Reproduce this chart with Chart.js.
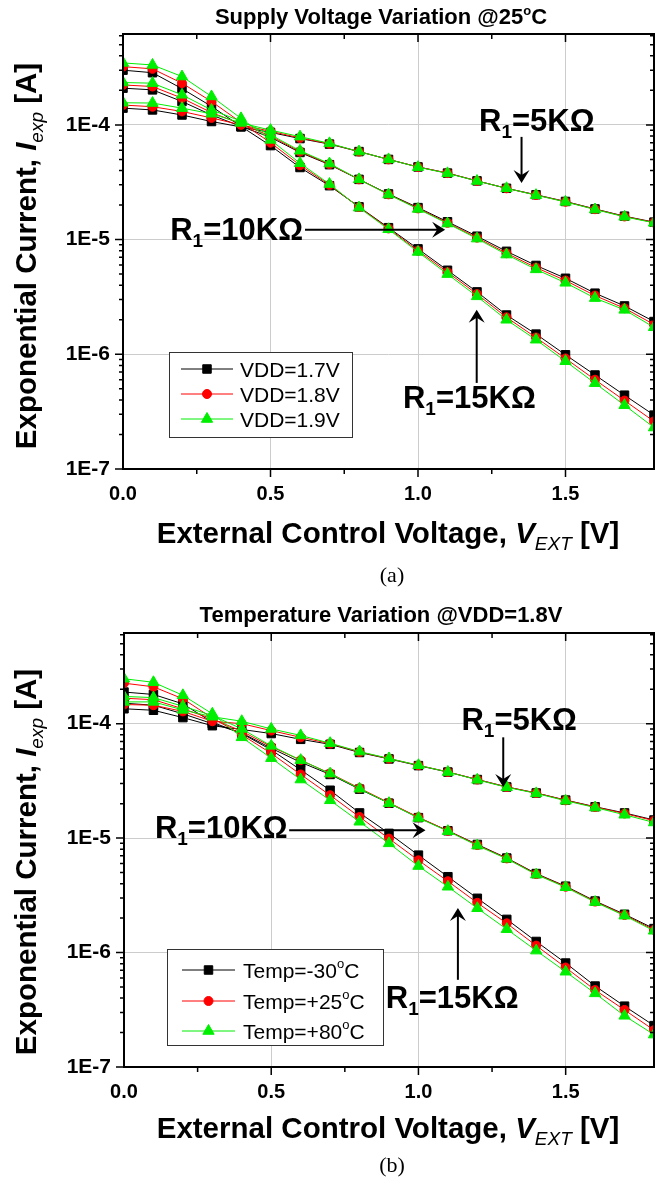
<!DOCTYPE html>
<html>
<head>
<meta charset="utf-8">
<script src="https://cdn.jsdelivr.net/npm/chart.js@4.4.1/dist/chart.umd.min.js"></script>
<style>
  body { margin: 0; background: #fff; }
  .box { position: absolute; left: 0; }
</style>
</head>
<body>
<div class="box" style="top:0"><canvas id="chartA" width="655" height="590"></canvas></div>
<div class="box" style="top:590px"><canvas id="chartB" width="655" height="591"></canvas></div>
<script>
// x values (external control voltage, V)
const volts = [0, 0.1, 0.2, 0.3, 0.4, 0.5, 0.6, 0.7, 0.8, 0.9, 1.0, 1.1, 1.2, 1.3, 1.4, 1.5, 1.6, 1.7, 1.8];

// tick labels
const xTickVals = [0, 0.5, 1.0, 1.5];
const xTickLabels = ['0.0', '0.5', '1.0', '1.5'];
const yTickVals = [1e-7, 1e-6, 1e-5, 1e-4];
const yTickLabels = ['1E-7', '1E-6', '1E-5', '1E-4'];

// (a) supply voltage variation @25C
const supplyLabels = ['VDD=1.7V', 'VDD=1.8V', 'VDD=1.9V'];
const supply15k_17 = [3.0e-4, 2.85e-4, 2.07e-4, 1.45e-4, 9.7e-5, 6.6e-5, 4.25e-5, 2.95e-5, 1.93e-5, 1.27e-5, 8.3e-6, 5.4e-6, 3.5e-6, 2.2e-6, 1.5e-6, 9.9e-7, 6.6e-7, 4.4e-7, 2.95e-7];
const supply15k_18 = [3.22e-4, 3.08e-4, 2.31e-4, 1.6e-4, 1.05e-4, 7.0e-5, 4.45e-5, 3.0e-5, 1.92e-5, 1.25e-5, 8.0e-6, 5.2e-6, 3.35e-6, 2.1e-6, 1.4e-6, 9.2e-7, 6.0e-7, 3.95e-7, 2.6e-7];
const supply15k_19 = [3.47e-4, 3.33e-4, 2.64e-4, 1.77e-4, 1.14e-4, 7.4e-5, 4.63e-5, 3.05e-5, 1.9e-5, 1.23e-5, 7.8e-6, 5.0e-6, 3.2e-6, 2.0e-6, 1.34e-6, 8.7e-7, 5.6e-7, 3.6e-7, 2.3e-7];
const supply10k_17 = [2.09e-4, 2.02e-4, 1.6e-4, 1.22e-4, 9.7e-5, 7.8e-5, 5.75e-5, 4.5e-5, 3.35e-5, 2.5e-5, 1.9e-5, 1.43e-5, 1.07e-5, 7.9e-6, 5.95e-6, 4.6e-6, 3.41e-6, 2.64e-6, 1.93e-6];
const supply10k_18 = [2.23e-4, 2.16e-4, 1.71e-4, 1.28e-4, 1.02e-4, 8.0e-5, 5.85e-5, 4.55e-5, 3.35e-5, 2.48e-5, 1.87e-5, 1.4e-5, 1.04e-5, 7.6e-6, 5.7e-6, 4.4e-6, 3.25e-6, 2.52e-6, 1.82e-6];
const supply10k_19 = [2.34e-4, 2.31e-4, 1.83e-4, 1.35e-4, 1.08e-4, 8.2e-5, 5.95e-5, 4.6e-5, 3.35e-5, 2.47e-5, 1.85e-5, 1.38e-5, 1.02e-5, 7.4e-6, 5.5e-6, 4.2e-6, 3.09e-6, 2.44e-6, 1.72e-6];
const supply5k_17 = [1.4e-4, 1.35e-4, 1.22e-4, 1.07e-4, 9.6e-5, 8.6e-5, 7.6e-5, 6.8e-5, 5.85e-5, 5.0e-5, 4.3e-5, 3.8e-5, 3.25e-5, 2.8e-5, 2.46e-5, 2.15e-5, 1.85e-5, 1.6e-5, 1.42e-5];
const supply5k_18 = [1.49e-4, 1.44e-4, 1.31e-4, 1.15e-4, 1.0e-4, 8.8e-5, 7.7e-5, 6.85e-5, 5.85e-5, 5.0e-5, 4.3e-5, 3.8e-5, 3.25e-5, 2.8e-5, 2.45e-5, 2.14e-5, 1.84e-5, 1.59e-5, 1.41e-5];
const supply5k_19 = [1.56e-4, 1.55e-4, 1.4e-4, 1.25e-4, 1.04e-4, 9.0e-5, 7.9e-5, 6.9e-5, 5.85e-5, 5.0e-5, 4.28e-5, 3.78e-5, 3.24e-5, 2.8e-5, 2.44e-5, 2.13e-5, 1.83e-5, 1.58e-5, 1.4e-5];

// (b) temperature variation @VDD=1.8V
const tempLabels = ['-30', '+25', '+80'];
const temp15k_m30 = [1.89e-4, 1.8e-4, 1.49e-4, 1.03e-4, 8.2e-5, 5.9e-5, 3.95e-5, 2.62e-5, 1.66e-5, 1.1e-5, 7.1e-6, 4.6e-6, 2.98e-6, 1.95e-6, 1.25e-6, 8.1e-7, 5.1e-7, 3.4e-7, 2.3e-7];
const temp15k_25 = [2.26e-4, 2.1e-4, 1.65e-4, 1.12e-4, 8.0e-5, 5.5e-5, 3.6e-5, 2.37e-5, 1.53e-5, 9.9e-6, 6.4e-6, 4.2e-6, 2.72e-6, 1.8e-6, 1.15e-6, 7.4e-7, 4.7e-7, 3.15e-7, 2.1e-7];
const temp15k_80 = [2.47e-4, 2.3e-4, 1.77e-4, 1.22e-4, 7.6e-5, 5.0e-5, 3.25e-5, 2.14e-5, 1.39e-5, 9.0e-6, 5.7e-6, 3.76e-6, 2.44e-6, 1.6e-6, 1.04e-6, 6.8e-7, 4.4e-7, 2.8e-7, 1.92e-7];
const temp10k_m30 = [1.51e-4, 1.45e-4, 1.22e-4, 1.0e-4, 8.3e-5, 6.1e-5, 4.6e-5, 3.6e-5, 2.68e-5, 2.02e-5, 1.51e-5, 1.16e-5, 8.8e-6, 6.7e-6, 4.9e-6, 3.8e-6, 2.82e-6, 2.16e-6, 1.62e-6];
const temp10k_25 = [1.67e-4, 1.62e-4, 1.35e-4, 1.1e-4, 8.6e-5, 6.3e-5, 4.8e-5, 3.68e-5, 2.73e-5, 2.04e-5, 1.52e-5, 1.16e-5, 8.7e-6, 6.65e-6, 4.85e-6, 3.76e-6, 2.79e-6, 2.13e-6, 1.58e-6];
const temp10k_80 = [1.73e-4, 1.69e-4, 1.42e-4, 1.18e-4, 9.0e-5, 6.4e-5, 4.8e-5, 3.66e-5, 2.7e-5, 2.02e-5, 1.5e-5, 1.15e-5, 8.6e-6, 6.6e-6, 4.8e-6, 3.72e-6, 2.76e-6, 2.1e-6, 1.55e-6];
const temp5k_m30 = [1.35e-4, 1.31e-4, 1.13e-4, 9.6e-5, 8.9e-5, 8.2e-5, 7.3e-5, 6.6e-5, 5.6e-5, 4.92e-5, 4.3e-5, 3.78e-5, 3.25e-5, 2.8e-5, 2.48e-5, 2.15e-5, 1.88e-5, 1.66e-5, 1.44e-5];
const temp5k_25 = [1.47e-4, 1.45e-4, 1.28e-4, 1.05e-4, 1.0e-4, 8.7e-5, 7.6e-5, 6.7e-5, 5.66e-5, 4.95e-5, 4.33e-5, 3.79e-5, 3.25e-5, 2.8e-5, 2.48e-5, 2.14e-5, 1.87e-5, 1.64e-5, 1.42e-5];
const temp5k_80 = [1.55e-4, 1.55e-4, 1.32e-4, 1.15e-4, 1.05e-4, 9.0e-5, 7.9e-5, 6.75e-5, 5.7e-5, 4.97e-5, 4.33e-5, 3.78e-5, 3.23e-5, 2.78e-5, 2.46e-5, 2.12e-5, 1.85e-5, 1.6e-5, 1.37e-5];

const FONT = "'Liberation Sans', Arial, sans-serif";
const B = s => `bold ${s}px ${FONT}`;
const BI = s => `italic bold ${s}px ${FONT}`;
const I = s => `italic ${s}px ${FONT}`;
const N = s => `${s}px ${FONT}`;

// black square / red circle / green triangle (green drawn on top)
const styles = [
  { color: '#000000', marker: 'rect', radius: 6, order: 3 },
  { color: '#ff0000', marker: 'circle', radius: 4.5, order: 2 },
  { color: '#00ee00', marker: 'triangle', radius: 6.5, order: 1 }
];

function makeDatasets(groups) {
  const out = [];
  groups.forEach(g => {
    g.forEach((vals, k) => {
      const st = styles[k];
      out.push({
        data: volts.map((v, i) => ({ x: v, y: vals[i] })),
        borderColor: st.color,
        backgroundColor: st.color,
        pointBackgroundColor: st.color,
        pointBorderColor: st.color,
        pointStyle: st.marker,
        pointRadius: st.radius,
        pointBorderWidth: 1,
        borderWidth: 1,
        order: st.order,
        tension: 0
      });
    });
  });
  return out;
}

// text made of pieces (for sub/superscripts)
function piecesWidth(ctx, parts) {
  let w = 0;
  for (const p of parts) { ctx.font = p.f; w += ctx.measureText(p.t).width; }
  return w;
}
function drawPieces(ctx, parts, x, y, align) {
  const w = piecesWidth(ctx, parts);
  let cx = align === 'center' ? x - w / 2 : (align === 'right' ? x - w : x);
  ctx.textAlign = 'left';
  ctx.textBaseline = 'alphabetic';
  for (const p of parts) {
    ctx.font = p.f;
    ctx.fillText(p.t, cx, y + (p.dy || 0));
    cx += ctx.measureText(p.t).width;
  }
  return w;
}

function drawMarker(ctx, st, x, y) {
  const r = st.radius;
  ctx.beginPath();
  if (st.marker === 'rect') {
    const s = r * Math.SQRT1_2;
    ctx.rect(x - s, y - s, 2 * s, 2 * s);
  } else if (st.marker === 'circle') {
    ctx.arc(x, y, r, 0, Math.PI * 2);
  } else {
    for (let k = 0; k < 3; k++) {
      const a = k * 2 * Math.PI / 3;
      ctx.lineTo(x + Math.sin(a) * r, y - Math.cos(a) * r);
    }
    ctx.closePath();
  }
  ctx.fillStyle = st.color;
  ctx.strokeStyle = st.color;
  ctx.lineWidth = 1;
  ctx.fill();
  ctx.stroke();
}

function arrow(ctx, x1, y1, x2, y2) {
  const ang = Math.atan2(y2 - y1, x2 - x1);
  const len = 13, half = 8, notch = 5;
  ctx.beginPath();
  ctx.lineWidth = 2;
  ctx.strokeStyle = '#000';
  ctx.moveTo(x1, y1);
  ctx.lineTo(x2 - Math.cos(ang) * notch, y2 - Math.sin(ang) * notch);
  ctx.stroke();
  ctx.save();
  ctx.translate(x2, y2);
  ctx.rotate(ang);
  ctx.beginPath();
  ctx.moveTo(0, 0);
  ctx.lineTo(-len, -half);
  ctx.lineTo(-len + notch, 0);
  ctx.lineTo(-len, half);
  ctx.closePath();
  ctx.fillStyle = '#000';
  ctx.fill();
  ctx.restore();
}

function rLabel(sub, rest) {
  return [{ t: 'R', f: B(31) }, { t: sub, f: B(19), dy: 7 }, { t: rest, f: B(31) }];
}

// frame, tick marks, titles, annotations, legend, caption
function decorPlugin(d) {
  return {
    id: 'decor',
    afterDraw(chart) {
      const { ctx, chartArea: a, scales: { x, y } } = chart;
      ctx.save();
      ctx.fillStyle = '#000';

      // frame and ticks
      ctx.strokeStyle = '#000';
      ctx.lineWidth = 2;
      ctx.strokeRect(a.left, a.top, a.right - a.left, a.bottom - a.top);
      ctx.lineWidth = 1.5;
      ctx.beginPath();
      x.ticks.forEach(t => {
        const q = t.value * 4;
        if (Math.abs(q - Math.round(q)) > 1e-6 || t.value <= 0 || t.value >= x.max) return;
        const px = x.getPixelForValue(t.value);
        const major = Math.round(q) % 2 === 0;
        const len = major ? 8 : 5;
        ctx.moveTo(px, a.bottom); ctx.lineTo(px, a.bottom + len);
        ctx.moveTo(px, a.top); ctx.lineTo(px, a.top + len);
      });
      y.ticks.forEach(t => {
        const e = Math.floor(Math.log10(t.value) + 1e-9);
        const m = t.value / Math.pow(10, e);
        if (Math.abs(m - Math.round(m)) > 1e-6) return;
        const py = y.getPixelForValue(t.value);
        const len = Math.round(m) === 1 ? 8 : 4;
        ctx.moveTo(a.left, py); ctx.lineTo(a.left - len, py);
        ctx.moveTo(a.right, py); ctx.lineTo(a.right - len, py);
      });
      ctx.stroke();

      // chart title
      drawPieces(ctx, d.title, d.titleX, d.titleY, 'center');

      // axis titles
      drawPieces(ctx, [
        { t: 'External Control Voltage, ', f: B(29.5) },
        { t: 'V', f: BI(29.5) },
        { t: 'EXT', f: I(19), dy: 7 },
        { t: ' [V]', f: B(29.5) }
      ], 388, d.xTitleY, 'center');
      ctx.save();
      ctx.translate(36, d.yTitleY);
      ctx.rotate(-Math.PI / 2);
      drawPieces(ctx, [
        { t: 'Exponential Current, ', f: B(29.5) },
        { t: 'I', f: BI(29.5) },
        { t: 'exp', f: I(19), dy: 7 },
        { t: ' [A]', f: B(29.5) }
      ], 0, 0, 'center');
      ctx.restore();

      // annotations anchored to data coordinates
      d.notes.forEach(n => {
        ctx.fillStyle = '#000';
        drawPieces(ctx, n.text, x.getPixelForValue(n.tx), y.getPixelForValue(n.ty), 'left');
        arrow(ctx, x.getPixelForValue(n.ax1), y.getPixelForValue(n.ay1),
              x.getPixelForValue(n.ax2), y.getPixelForValue(n.ay2));
      });

      // legend box
      const L = d.legend;
      const bx = a.left + L.dx, by = L.top;
      ctx.fillStyle = '#fff';
      ctx.fillRect(bx, by, L.w, L.h);
      ctx.strokeStyle = '#333';
      ctx.lineWidth = 1;
      ctx.strokeRect(bx + 0.5, by + 0.5, L.w, L.h);
      L.items.forEach((parts, k) => {
        const ry = by + L.rows[k];
        const st = styles[k];
        ctx.beginPath();
        ctx.strokeStyle = st.color;
        ctx.lineWidth = 1;
        ctx.moveTo(bx + L.l0, ry); ctx.lineTo(bx + L.l1, ry);
        ctx.stroke();
        drawMarker(ctx, st, bx + (L.l0 + L.l1) / 2, ry);
        ctx.fillStyle = '#000';
        drawPieces(ctx, parts, bx + L.tx, ry + 7.5, 'left');
      });

      // caption
      ctx.fillStyle = '#000';
      ctx.font = "22px 'Liberation Serif', 'Times New Roman', serif";
      ctx.textAlign = 'center';
      ctx.textBaseline = 'alphabetic';
      ctx.fillText(d.caption, 392, d.captionY);
      ctx.restore();
    }
  };
}

function isDecade(v) {
  const l = Math.log10(v);
  return Math.abs(l - Math.round(l)) < 1e-9;
}

function makeChart(id, groups, pad, xH, yW, d) {
  return new Chart(document.getElementById(id), {
    type: 'line',
    data: { datasets: makeDatasets(groups) },
    options: {
      responsive: false,
      animation: false,
      layout: { autoPadding: false, padding: { top: pad, right: 1, left: 0, bottom: 0 } },
      plugins: { legend: { display: false }, tooltip: { enabled: false }, title: { display: false } },
      scales: {
        x: {
          type: 'linear', min: 0, max: 1.8,
          afterFit(s) { s.height = xH; s.paddingLeft = 0; s.paddingRight = 0; },
          border: { display: false },
          grid: {
            drawTicks: false,
            lineWidth: 1,
            color: c => {
              const v = c.tick ? c.tick.value : 0;
              return (v > 0.01 && Math.abs(v * 2 - Math.round(v * 2)) < 1e-6) ? '#cccccc' : 'rgba(0,0,0,0)';
            }
          },
          ticks: {
            stepSize: 0.25, autoSkip: false, maxRotation: 0, padding: 13, color: '#000',
            font: { family: FONT, size: 20, weight: 'bold' },
            callback: v => {
              const i = xTickVals.findIndex(t => Math.abs(t - v) < 1e-6);
              return i >= 0 ? xTickLabels[i] : '';
            }
          }
        },
        y: {
          type: 'logarithmic', min: 1e-7, max: 6.2e-4,
          afterFit(s) { s.width = yW; s.paddingTop = 0; s.paddingBottom = 0; },
          border: { display: false },
          grid: {
            drawTicks: false,
            lineWidth: 1,
            color: c => (c.tick && isDecade(c.tick.value) && c.tick.value > 1.01e-7) ? '#cccccc' : 'rgba(0,0,0,0)'
          },
          ticks: {
            autoSkip: false, padding: 13, color: '#000',
            font: { family: FONT, size: 21, weight: 'bold' },
            callback: v => {
              const i = yTickVals.findIndex(t => Math.abs(t - v) / t < 1e-6);
              return i >= 0 ? yTickLabels[i] : '';
            }
          }
        }
      }
    },
    plugins: [decorPlugin(d)]
  });
}

const sup = s => ({ t: s, f: N(13), dy: -10 });

makeChart('chartA',
  [[supply15k_17, supply15k_18, supply15k_19],
   [supply10k_17, supply10k_18, supply10k_19],
   [supply5k_17, supply5k_18, supply5k_19]],
  34, 121, 123,
  {
    title: [{ t: 'Supply Voltage Variation @25', f: B(22) }, { t: 'o', f: B(13), dy: -9 }, { t: 'C', f: B(22) }],
    titleX: 381, titleY: 24,
    xTitleY: 543, yTitleY: 256,
    caption: '(a)', captionY: 582,
    notes: [
      { text: rLabel('1', '=5KΩ'), tx: 1.207, ty: 8.87e-5, ax1: 1.351, ay1: 7.86e-5, ax2: 1.351, ay2: 3.12e-5 },
      { text: rLabel('1', '=10KΩ'), tx: 0.16, ty: 9.93e-6, ax1: 0.617, ay1: 1.22e-5, ax2: 1.092, ay2: 1.22e-5 },
      { text: rLabel('1', '=15KΩ'), tx: 0.949, ty: 3.41e-7, ax1: 1.199, ay1: 5.63e-7, ax2: 1.199, ay2: 2.44e-6 }
    ],
    legend: {
      dx: 46, top: 352, w: 183, h: 85, rows: [17, 42, 67], l0: 12, l1: 64, tx: 71,
      items: supplyLabels.map(s => [{ t: s, f: N(21) }])
    }
  });

makeChart('chartB',
  [[temp15k_m30, temp15k_25, temp15k_80],
   [temp10k_m30, temp10k_25, temp10k_80],
   [temp5k_m30, temp5k_25, temp5k_80]],
  43, 114, 124,
  {
    title: [{ t: 'Temperature Variation @VDD=1.8V', f: B(22) }],
    titleX: 381, titleY: 32,
    xTitleY: 548, yTitleY: 272,
    caption: '(b)', captionY: 582,
    notes: [
      { text: rLabel('1', '=5KΩ'), tx: 1.146, ty: 8.74e-5, ax1: 1.288, ay1: 7.6e-5, ax2: 1.288, ay2: 2.8e-5 },
      { text: rLabel('1', '=10KΩ'), tx: 0.105, ty: 1.0e-5, ax1: 0.561, ay1: 1.17e-5, ax2: 1.024, ay2: 1.17e-5 },
      { text: rLabel('1', '=15KΩ'), tx: 0.889, ty: 3.3e-7, ax1: 1.134, ay1: 5.78e-7, ax2: 1.134, ay2: 2.45e-6 }
    ],
    legend: {
      dx: 43, top: 359, w: 216, h: 96, rows: [21, 52, 82], l0: 15, l1: 68, tx: 76,
      items: tempLabels.map(s => [{ t: 'Temp=' + s, f: N(21) }, sup('o'), { t: 'C', f: N(21) }])
    }
  });
</script>
</body>
</html>
